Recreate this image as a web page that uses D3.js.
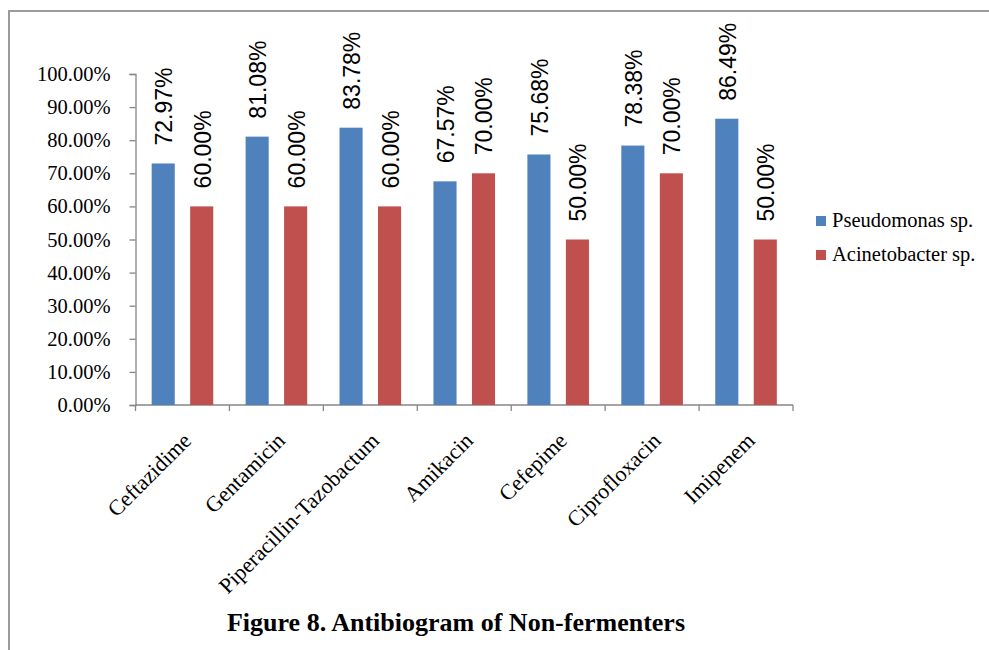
<!DOCTYPE html>
<html>
<head>
<meta charset="utf-8">
<script src="https://cdn.jsdelivr.net/npm/d3@7"></script>
<style>
  html, body { margin: 0; padding: 0; background: #fff; }
  svg { display: block; }
</style>
</head>
<body>
<svg id="chart" width="989" height="650"></svg>
<script>
// Antibiotic resistance of non-fermenting isolates
const categories = ["Ceftazidime", "Gentamicin", "Piperacillin-Tazobactum", "Amikacin", "Cefepime", "Ciprofloxacin", "Imipenem"];
const seriesNames = ["Pseudomonas sp.", "Acinetobacter sp."];
const pseudomonas = [72.97, 81.08, 83.78, 67.57, 75.68, 78.38, 86.49];
const acinetobacter = [60.00, 60.00, 60.00, 70.00, 50.00, 70.00, 50.00];
const yTicks = [0, 10, 20, 30, 40, 50, 60, 70, 80, 90, 100];
const titleText = "Figure 8. Antibiogram of Non-fermenters";

const colors = ["#4F81BD", "#C0504D"];
const seriesValues = [pseudomonas, acinetobacter];

const svg = d3.select("#chart");

// frame around the figure
svg.append("line").attr("x1", 9).attr("x2", 989).attr("y1", 11).attr("y2", 11)
  .attr("stroke", "#9a9a9a").attr("stroke-width", 2);
svg.append("line").attr("x1", 9).attr("x2", 9).attr("y1", 10).attr("y2", 650)
  .attr("stroke", "#9a9a9a").attr("stroke-width", 2);

const plot = { left: 135.5, right: 793, top: 74, bottom: 405 };

const y = d3.scaleLinear().domain([0, 100]).range([plot.bottom, plot.top]);
const x0 = d3.scaleBand().domain(categories).range([plot.left, plot.right]).padding(0);
const x1 = d3.scaleBand().domain(seriesNames).range([0, x0.bandwidth()])
  .paddingInner(0.4).paddingOuter(0.42);

// y axis
const yAxis = d3.axisLeft(y).tickValues(yTicks).tickSize(6).tickPadding(19)
  .tickFormat(d => d.toFixed(2) + "%");
const gy = svg.append("g").attr("transform", `translate(${plot.left},0)`).call(yAxis);
gy.select(".domain").attr("stroke", "#868686").attr("stroke-width", 1.3);
gy.selectAll(".tick line").attr("stroke", "#868686").attr("stroke-width", 1.3);
gy.selectAll(".tick text").attr("font-family", "'Liberation Serif', 'Times New Roman', serif")
  .attr("font-size", 20.5).attr("fill", "#000");

// x axis line with ticks at category boundaries
const boundaries = categories.map(c => x0(c)).concat([plot.right]);
svg.append("line").attr("x1", plot.left).attr("x2", plot.right)
  .attr("y1", plot.bottom).attr("y2", plot.bottom)
  .attr("stroke", "#868686").attr("stroke-width", 1.3);
svg.append("g").selectAll("line").data(boundaries).join("line")
  .attr("x1", d => d).attr("x2", d => d)
  .attr("y1", plot.bottom).attr("y2", plot.bottom + 6)
  .attr("stroke", "#868686").attr("stroke-width", 1.3);

// bars
const groups = svg.append("g").selectAll("g").data(categories).join("g")
  .attr("transform", c => `translate(${x0(c)},0)`);

groups.selectAll("rect")
  .data((c, i) => seriesNames.map((s, k) => ({ s, k, v: seriesValues[k][i] })))
  .join("rect")
  .attr("x", d => x1(d.s))
  .attr("width", x1.bandwidth())
  .attr("y", d => y(d.v))
  .attr("height", d => y(0) - y(d.v))
  .attr("fill", d => colors[d.k]);

// value labels, rotated
groups.selectAll("text.val")
  .data((c, i) => seriesNames.map((s, k) => ({ s, k, v: seriesValues[k][i] })))
  .join("text")
  .attr("class", "val")
  .attr("transform", d => `translate(${x1(d.s) + x1.bandwidth() / 2 + 9},${y(d.v) - 18}) rotate(-90)`)
  .attr("text-anchor", "start")
  .attr("font-family", "'Liberation Sans', Arial, sans-serif")
  .attr("font-size", 23)
  .attr("fill", "#000")
  .text(d => d.v.toFixed(2) + "%");

// category labels
svg.append("g").selectAll("text").data(categories).join("text")
  .attr("transform", c => `translate(${x0(c) + x0.bandwidth() / 2 + 10},${plot.bottom + 37}) rotate(-45)`)
  .attr("text-anchor", "end")
  .attr("font-family", "'Liberation Serif', 'Times New Roman', serif")
  .attr("font-size", 22)
  .attr("fill", "#000")
  .text(c => c);

// legend
const legend = svg.append("g").attr("transform", "translate(816,216)");
const li = legend.selectAll("g").data(seriesNames).join("g")
  .attr("transform", (d, i) => `translate(0,${i * 34})`);
li.append("rect").attr("width", 10).attr("height", 10).attr("fill", (d, i) => colors[i]);
li.append("text").attr("x", 16).attr("y", 11)
  .attr("font-family", "'Liberation Serif', 'Times New Roman', serif")
  .attr("font-size", 20.5).attr("fill", "#000")
  .text(d => d);

// figure caption
svg.append("text").attr("x", 456).attr("y", 631)
  .attr("text-anchor", "middle")
  .attr("font-family", "'Liberation Serif', 'Times New Roman', serif")
  .attr("font-weight", "bold")
  .attr("font-size", 26)
  .attr("fill", "#000")
  .text(titleText);
</script>
</body>
</html>
